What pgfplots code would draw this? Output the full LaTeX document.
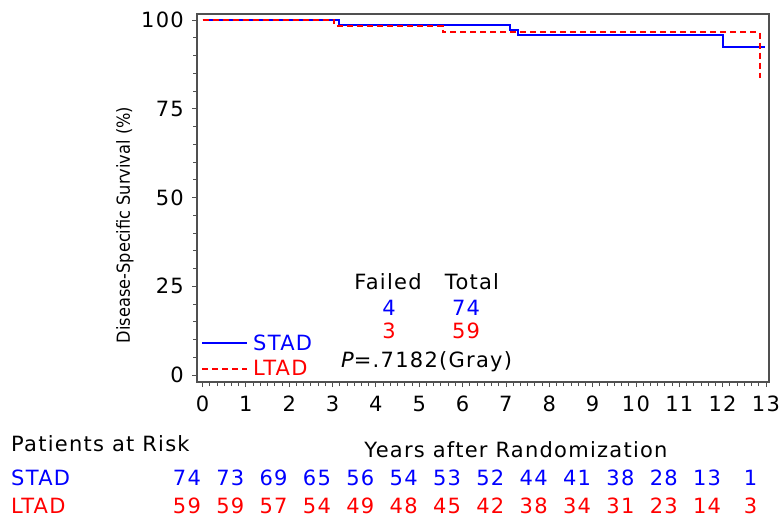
\documentclass[border=0pt]{standalone}
\usepackage{pgfplots}
\pgfplotsset{compat=1.18}
\usepackage{fontspec}
\setmainfont[LetterSpace=6]{DejaVu Sans}
\newfontfamily\condfont{DejaVu Sans Condensed}
\definecolor{axgray}{RGB}{80,80,80}
\begin{document}
\begin{tikzpicture}[x=1pt,y=1pt]
\fontsize{21}{25}\selectfont
\path[use as bounding box] (0,0) rectangle (783,523);
\begin{axis}[
  at={(197pt,141pt)}, anchor=south west,
  width=572pt, height=368pt, scale only axis,
  xmin=-0.127, xmax=13.07, ymin=-1.97, ymax=101.7,
  xtick={0,1,...,13}, ytick={0,25,50,75,100},
  minor x tick num=5, minor y tick num=4,
  tick align=outside, major tick length=5pt, minor tick length=4pt,
  tick style={axgray, line width=0.8pt},
  axis line style={axgray, line width=1.5pt},
  xtick pos=bottom, ytick pos=left,
  /pgf/number format/assume math mode=true,
  ticklabel style={font=\fontsize{21}{25}\selectfont},
  yticklabel style={xshift=-1pt},
  xticklabel style={yshift=-2pt},
  clip=false,
]
\addplot[const plot, blue, line width=1.8pt] coordinates {
  (0,100) (3.15,98.6) (7.09,97.2) (7.27,95.8) (12.0,92.5) (12.98,92.5)};
\addplot[const plot, red, line width=1.8pt, dash pattern=on 6pt off 4pt] coordinates {
  (0,100) (3.04,98.4) (5.54,96.6) (12.86,83.7)};
\end{axis}
% legend
\draw[blue, line width=1.2pt] (202,180) -- (247,180);
\node[anchor=west, blue, inner sep=0] at (253,180) {STAD};
\draw[red, line width=1.2pt, dash pattern=on 6pt off 4pt] (202,154) -- (247,154);
\node[anchor=west, red, inner sep=0] at (253,155) {LTAD};
% failed/total
\node at (388,241) {Failed};
\node at (472,241) {Total};
\node[blue] at (389,215) {4};
\node[blue] at (466,215) {74};
\node[red] at (389,192) {3};
\node[red] at (466,192) {59};
\node[anchor=west, inner sep=0] at (341,161) {{\itshape P}=.7182(Gray)};
% y label
\node[rotate=90] at (125,298) {\condfont\fontsize{18}{22}\selectfont Disease-Specific Survival (\%)};
% risk table
\node[anchor=west, inner sep=0] at (11,79) {Patients at Risk};
\node at (516,73) {Years after Randomization};
\node[anchor=west, inner sep=0, blue] at (11,45) {STAD};
\node[anchor=west, inner sep=0, red] at (11,17) {LTAD};
\foreach \n [count=\k from 0] in {74,73,69,65,56,54,53,52,44,41,38,28,13,1}
  \node[blue] at ({202.5+(\k-0.36)*43.35},45) {\n};
\foreach \n [count=\k from 0] in {59,59,57,54,49,48,45,42,38,34,31,23,14,3}
  \node[red] at ({202.5+(\k-0.36)*43.35},17) {\n};
\end{tikzpicture}
\end{document}
